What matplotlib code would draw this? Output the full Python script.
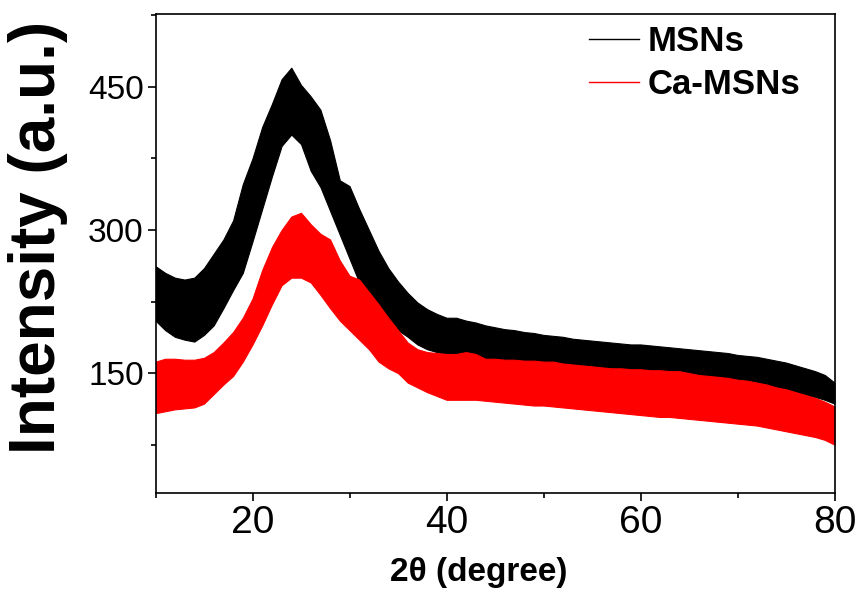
import matplotlib
matplotlib.use("Agg")
import matplotlib.pyplot as plt
from matplotlib.lines import Line2D
from matplotlib.ticker import MultipleLocator

plt.rcParams['font.family'] = ['Liberation Sans', 'DejaVu Sans']

two_theta = list(range(10, 81))

msn_low = [205, 195, 188, 185, 183, 190, 200, 218, 237, 255,
           288, 322, 356, 388, 400, 390, 362, 345, 320, 295,
           270, 245, 230, 218, 205, 195, 188, 180, 175, 172,
           170, 168, 166, 165, 163, 162, 160, 159, 158, 157,
           156, 155, 154, 153, 152, 151, 150, 149, 148, 147,
           147, 146, 145, 145, 144, 143, 142, 141, 140, 139,
           138, 137, 136, 134, 133, 131, 129, 127, 125, 122, 118]
msn_high = [262, 255, 250, 248, 250, 260, 275, 290, 310, 348,
            375, 408, 432, 458, 470, 452, 440, 426, 394, 352,
            346, 322, 300, 278, 260, 246, 234, 224, 217, 212,
            208, 208, 205, 203, 200, 198, 196, 195, 193, 192,
            190, 189, 188, 186, 185, 184, 183, 182, 181, 180,
            180, 179, 178, 177, 176, 175, 174, 173, 172, 171,
            169, 168, 167, 165, 163, 161, 158, 155, 152, 148, 140]

ca_low = [108, 110, 112, 113, 114, 118, 128, 138, 147, 162,
          180, 200, 222, 242, 250, 250, 245, 232, 218, 205,
          195, 185, 175, 162, 155, 150, 140, 135, 130, 126,
          122, 122, 122, 122, 121, 120, 119, 118, 117, 116,
          116, 115, 114, 113, 112, 111, 110, 109, 108, 107,
          106, 105, 104, 104, 103, 102, 101, 100, 99, 98,
          97, 96, 95, 93, 91, 89, 87, 85, 83, 80, 75]
ca_high = [162, 165, 165, 164, 164, 166, 172, 182, 193, 208,
           228, 258, 282, 300, 314, 318, 306, 296, 290, 268,
           252, 248, 235, 222, 208, 195, 182, 175, 172, 171,
           170, 170, 172, 170, 165, 165, 164, 164, 163, 163,
           162, 162, 160, 159, 158, 157, 156, 155, 155, 154,
           154, 153, 153, 152, 152, 150, 148, 147, 146, 145,
           143, 142, 140, 138, 135, 133, 130, 127, 124, 120, 115]

labels = ['MSNs', 'Ca-MSNs']
colors = ['#000000', '#FF0000']

fig = plt.figure(figsize=(8.58, 5.94), dpi=100)
ax = fig.add_axes([155.5/858, 1-493.3/594, 679/858, 479/594])

ax.fill_between(two_theta, msn_low, msn_high, color=colors[0], lw=0.8)
ax.fill_between(two_theta, ca_low, ca_high, color=colors[1], lw=0.8)

ax.set_xlim(10, 80)
ax.set_ylim(24, 526)
ax.xaxis.set_major_locator(MultipleLocator(20))
ax.xaxis.set_minor_locator(MultipleLocator(10))
ax.yaxis.set_major_locator(MultipleLocator(150))
ax.yaxis.set_minor_locator(MultipleLocator(75))

for s in ax.spines.values():
    s.set_linewidth(1.2)
ax.tick_params(which='major', direction='out', length=5.5, width=1.2)
ax.tick_params(which='minor', direction='out', length=3.6, width=1.2)
ax.tick_params(axis='y', labelsize=24, pad=3)
ax.tick_params(axis='x', labelsize=28, pad=3)

ax.set_xlabel('2θ (degree)', fontsize=24, fontweight='bold')
ax.set_ylabel('Intensity (a.u.)', fontsize=46, fontweight='bold')
ax.xaxis.set_label_coords((479-155.5)/679, -(572-493.3)/479)
ax.yaxis.set_label_coords(-(117)/679, (493.3-237)/479)
ax.xaxis.label.set_va('center')
ax.yaxis.label.set_va('center')

handles = [Line2D([], [], color=c, lw=1.0) for c in colors]
leg = ax.legend(handles, labels, loc='upper left',
                bbox_to_anchor=(589/858, 1-25/594), bbox_transform=fig.transFigure,
                frameon=False, borderpad=0, borderaxespad=0,
                handlelength=1.45, handletextpad=0.25, labelspacing=0.3,
                prop={'size': 25, 'weight': 'bold'})

fig.savefig('out.png', dpi=100)
